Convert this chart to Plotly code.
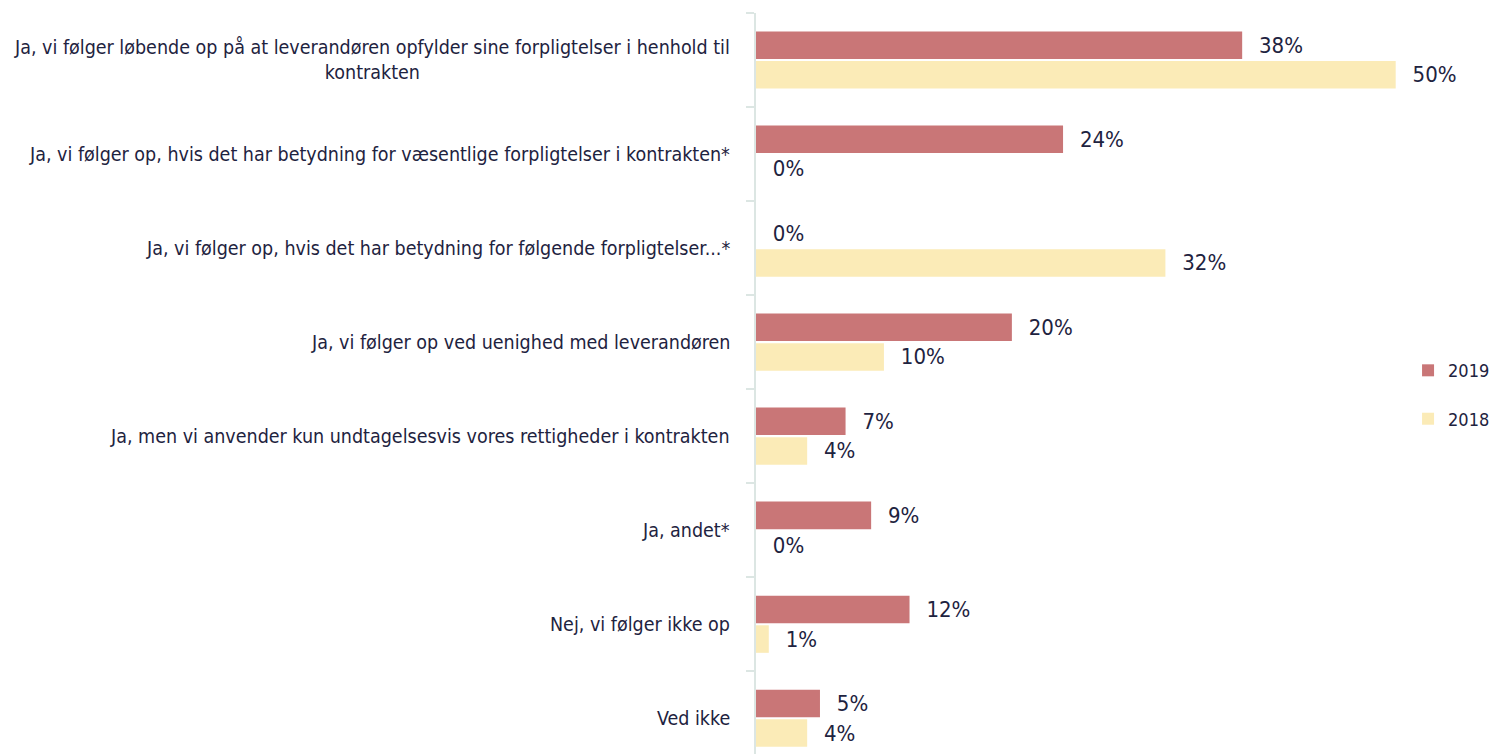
import plotly.graph_objects as go

categories = [
    "Ja, vi følger løbende op på at leverandøren opfylder sine forpligtelser i henhold til<br>kontrakten",
    "Ja, vi følger op, hvis det har betydning for væsentlige forpligtelser i kontrakten*",
    "Ja, vi følger op, hvis det har betydning for følgende forpligtelser...*",
    "Ja, vi følger op ved uenighed med leverandøren",
    "Ja, men vi anvender kun undtagelsesvis vores rettigheder i kontrakten",
    "Ja, andet*",
    "Nej, vi følger ikke op",
    "Ved ikke",
]
values_2019 = [38, 24, 0, 20, 7, 9, 12, 5]
values_2018 = [50, 0, 32, 10, 4, 0, 1, 4]
series_names = ["2019", "2018"]

FONT = "DejaVu Sans Condensed, Liberation Sans Narrow, sans-serif"
TEXT_COLOR = "#1E2340"
C2019 = "#C97677"
C2018 = "#FBEBB7"

fig = go.Figure()
for name, vals, col in [(series_names[0], values_2019, C2019), (series_names[1], values_2018, C2018)]:
    fig.add_trace(go.Bar(
        y=categories, x=vals, name=name, orientation="h", legendgroup=name,
        marker=dict(color=col, line=dict(width=0)),
        texttemplate="\u2002\u2009%{x}%", textposition="outside", cliponaxis=False,
        textfont=dict(family=FONT, size=22, color=TEXT_COLOR),
    ))

for i, cat in enumerate(categories):
    fig.add_annotation(
        x=0, xref="paper", y=cat, yref="y", text=cat, showarrow=False,
        xanchor="right", yanchor="middle", xshift=-24, align="center",
        font=dict(family=FONT, size=19.5, color=TEXT_COLOR),
    )

fig.update_layout(
    width=1494, height=746,
    margin=dict(l=748, r=82, t=5, b=0, autoexpand=False),
    barmode="group", bargap=0.37, bargroupgap=0.07,
    plot_bgcolor="white", paper_bgcolor="white",
    font=dict(family=FONT, color=TEXT_COLOR),
    legend=dict(x=0.982, y=0.485, xanchor="left", yanchor="middle",
                font=dict(family=FONT, size=18, color=TEXT_COLOR),
                itemsizing="constant", traceorder="grouped", tracegroupgap=22, itemwidth=30),
    showlegend=True,
)
fig.update_xaxes(range=[0, 51.9], visible=False)
fig.update_yaxes(
    type="category", autorange=False, range=[7.38, -0.5],
    showticklabels=False, showline=True, linecolor="#DCE6E3", linewidth=2,
    ticks="outside", tickson="boundaries", ticklen=8, tickcolor="#DCE6E3", tickwidth=2,
    showgrid=False, zeroline=False,
)

fig.write_html("out.html")
